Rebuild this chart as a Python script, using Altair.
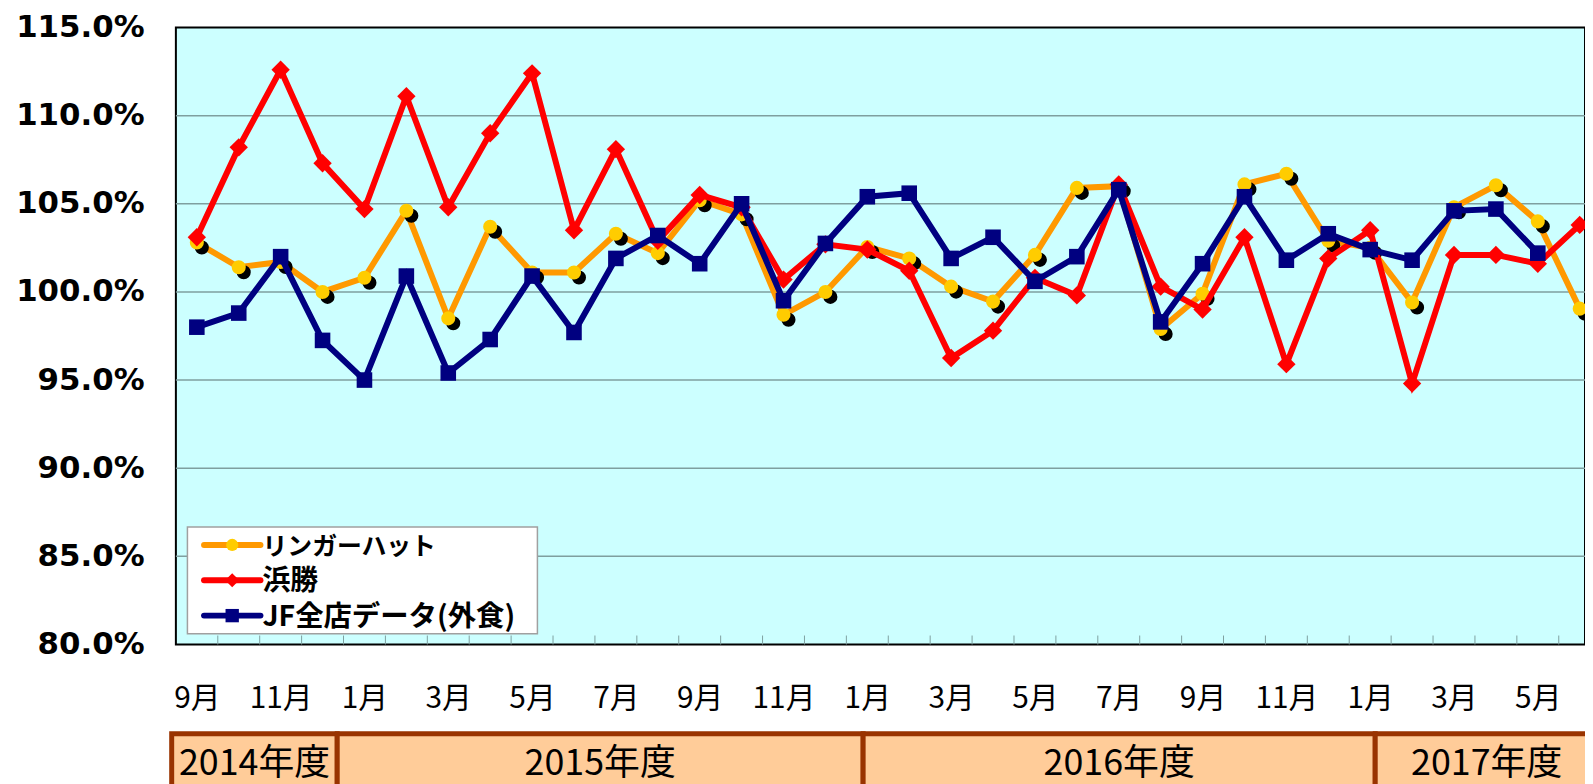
import json
import altair as alt
import pandas as pd

# ---------------- data ----------------
months = ["9月", "10月", "11月", "12月", "1月", "2月", "3月", "4月", "5月", "6月", "7月", "8月",
          "9月", "10月", "11月", "12月", "1月", "2月", "3月", "4月", "5月", "6月", "7月", "8月",
          "9月", "10月", "11月", "12月", "1月", "2月", "3月", "4月", "5月", "6月"]

ringer_hut = [102.8, 101.4, 101.7, 100.0, 100.8, 104.6, 98.5, 103.7, 101.1, 101.1,
              103.3, 102.2, 105.2, 104.4, 98.7, 100.0, 102.55, 101.9, 100.3, 99.45,
              102.1, 105.9, 106.0, 97.9, 99.9, 106.1, 106.7, 102.9, 102.5, 99.4,
              104.8, 106.05, 104.0, 99.05]

hamakatsu = [103.1, 108.2, 112.6, 107.3, 104.7, 111.1, 104.8, 109.0, 112.4, 103.5,
             108.1, 102.9, 105.5, 104.8, 100.7, 102.7, 102.4, 101.2, 96.25, 97.8,
             100.8, 99.8, 106.1, 100.3, 99.0, 103.1, 95.9, 101.9, 103.5, 94.8,
             102.1, 102.1, 101.6, 103.8]

jf_all = [98.0, 98.8, 102.0, 97.25, 95.0, 100.9, 95.4, 97.3, 100.9, 97.7,
          101.9, 103.2, 101.6, 105.0, 99.5, 102.75, 105.4, 105.6, 101.9, 103.1,
          100.6, 102.0, 105.8, 98.3, 101.6, 105.4, 101.8, 103.3, 102.4, 101.8,
          104.6, 104.7, 102.2, None]

series_names = ["リンガーハット", "浜勝", "JF全店データ(外食)"]
series_values = [ringer_hut, hamakatsu, jf_all]

fiscal_years = ["2014年度", "2015年度", "2016年度", "2017年度"]
fy_from = [-0.6, 3.35, 15.9, 28.12]   # span in month-index units
fy_to = [3.35, 15.9, 28.12, 33.44]

y_ticks = [80, 85, 90, 95, 100, 105, 110, 115]
grid_values = [85, 90, 95, 100, 105, 110]

# ---------------- tables ----------------
rows = []
for name, vals in zip(series_names, series_values):
    for i, v in enumerate(vals):
        if v is not None:
            rows.append({"i": i, "series": name, "value": v})
df = pd.DataFrame(rows)
df_fy = pd.DataFrame({"label": fiscal_years, "start": fy_from, "end": fy_to})
df_grid = pd.DataFrame({"value": grid_values})
df_ticks = pd.DataFrame({"b": [k + 0.5 for k in range(len(months))]})
df_one = pd.DataFrame({"k": [0]})

# ---------------- layout ----------------
W, H = 1416, 620
STEP = 42.11
JP = "Noto Sans CJK JP"
xs = alt.Scale(domain=[-0.5, len(months) - 0.5], range=[0, STEP * len(months)])
ys = alt.Scale(domain=[80, 115], nice=False, zero=False)

label_expr = json.dumps(months, ensure_ascii=False) + "[datum.value]"

x_axis = alt.Axis(values=list(range(0, len(months), 2)), labelExpr=label_expr,
                  labelFont=JP, labelFontSize=30, labelColor="black",
                  labelPadding=39, ticks=False, tickSize=0, domain=False, grid=False,
                  title=None, labelAngle=0, labelOverlap=False, labelFlush=False)
y_axis = alt.Axis(values=y_ticks, labelExpr="format(datum.value, '.1f') + '%'",
                  labelFont="DejaVu Sans", labelFontWeight="bold", labelFontSize=31,
                  labelColor="black", labelPadding=32, ticks=False, tickSize=0,
                  domain=False, grid=False, title=None, labelFlush=False, labelOverlap=False)

X = alt.X("i:Q", scale=xs, axis=x_axis)
Y = alt.Y("value:Q", scale=ys, axis=y_axis)

grid = alt.Chart(df_grid).mark_rule(color="#7F9F9F", strokeWidth=1.5).encode(y=Y)

ticks = alt.Chart(df_ticks).mark_rule(color="#7F9F9F", strokeWidth=1).encode(
    x=alt.X("b:Q", scale=xs, axis=x_axis), y=alt.value(H), y2=alt.value(H - 9))

def sel(name):
    return alt.datum.series == name

LW = 6
orange_line = alt.Chart(df).transform_filter(sel(series_names[0])).mark_line(
    color="#FF9900", strokeWidth=LW).encode(x=X, y=Y)
orange_shadow = alt.Chart(df).transform_filter(sel(series_names[0])).mark_point(
    filled=True, shape="circle", size=200, color="black", opacity=1,
    xOffset=5, yOffset=5).encode(x=X, y=Y)
orange_pts = alt.Chart(df).transform_filter(sel(series_names[0])).mark_point(
    filled=True, shape="circle", size=200, color="#FFCC00", opacity=1).encode(x=X, y=Y)

red_line = alt.Chart(df).transform_filter(sel(series_names[1])).mark_line(
    color="#FF0000", strokeWidth=LW).encode(x=X, y=Y)
red_pts = alt.Chart(df).transform_filter(sel(series_names[1])).mark_point(
    filled=True, shape="diamond", size=340, color="#FF0000", opacity=1).encode(x=X, y=Y)

blue_line = alt.Chart(df).transform_filter(sel(series_names[2])).mark_line(
    color="#000080", strokeWidth=LW).encode(x=X, y=Y)
blue_pts = alt.Chart(df).transform_filter(sel(series_names[2])).mark_point(
    filled=True, shape="square", size=245, color="#000080", opacity=1).encode(x=X, y=Y)

# fiscal-year table under the axis
fy_box = alt.Chart(df_fy).mark_rect(fill="#FFCC99", stroke="#993300", strokeWidth=5).encode(
    x=alt.X("start:Q", scale=xs, axis=x_axis), x2="end:Q",
    y=alt.value(709.8), y2=alt.value(820))
fy_text = alt.Chart(df_fy).transform_calculate(mid="(datum.start + datum.end) / 2").mark_text(
    font=JP, fontSize=36, color="black", align="center",
    baseline="alphabetic").encode(
    x=alt.X("mid:Q", scale=xs, axis=x_axis), y=alt.value(751), text="label:N")

# legend (drawn by hand: line + marker)
leg_layers = [alt.Chart(df_one).mark_rect(fill="white", stroke="#A0A0A0", strokeWidth=1.5).encode(
    x=alt.value(11.6), x2=alt.value(363.3), y=alt.value(502), y2=alt.value(609.3))]
leg_line_colors = ["#FF9900", "#FF0000", "#000080"]
leg_marker_colors = ["#FFCC00", "#FF0000", "#000080"]
leg_shapes = ["circle", "diamond", "square"]
leg_sizes = [150, 200, 180]
leg_font_sizes = [25, 28, 28.5]
for k, name in enumerate(series_names):
    yc = 520 + k * 35.5
    leg_layers.append(alt.Chart(df_one).mark_rule(
        color=leg_line_colors[k], strokeWidth=6, strokeCap="round").encode(
        x=alt.value(28.3), x2=alt.value(85), y=alt.value(yc)))
    leg_layers.append(alt.Chart(df_one).mark_point(
        filled=True, shape=leg_shapes[k], size=leg_sizes[k], color=leg_marker_colors[k],
        opacity=1).encode(x=alt.value(56.6), y=alt.value(yc)))
    leg_layers.append(alt.Chart(df_one).mark_text(
        text=name, font=JP, fontWeight="bold", fontSize=leg_font_sizes[k],
        color="black", align="left", baseline="alphabetic").encode(
        x=alt.value(87), y=alt.value(yc + 10)))

chart = alt.layer(
    grid, ticks,
    orange_line, orange_shadow, orange_pts,
    red_line, red_pts,
    blue_line, blue_pts,
    fy_box, fy_text,
    *leg_layers,
).properties(
    width=W, height=H,
    autosize=alt.AutoSizeParams(type="none"),
    padding={"left": 168.7, "top": 17.7, "right": 0, "bottom": 138},
    background="white",
).configure_view(fill="#CCFFFF", stroke="black", strokeWidth=2)

chart.save("out.html", embed_options={"renderer": "svg", "actions": False})
